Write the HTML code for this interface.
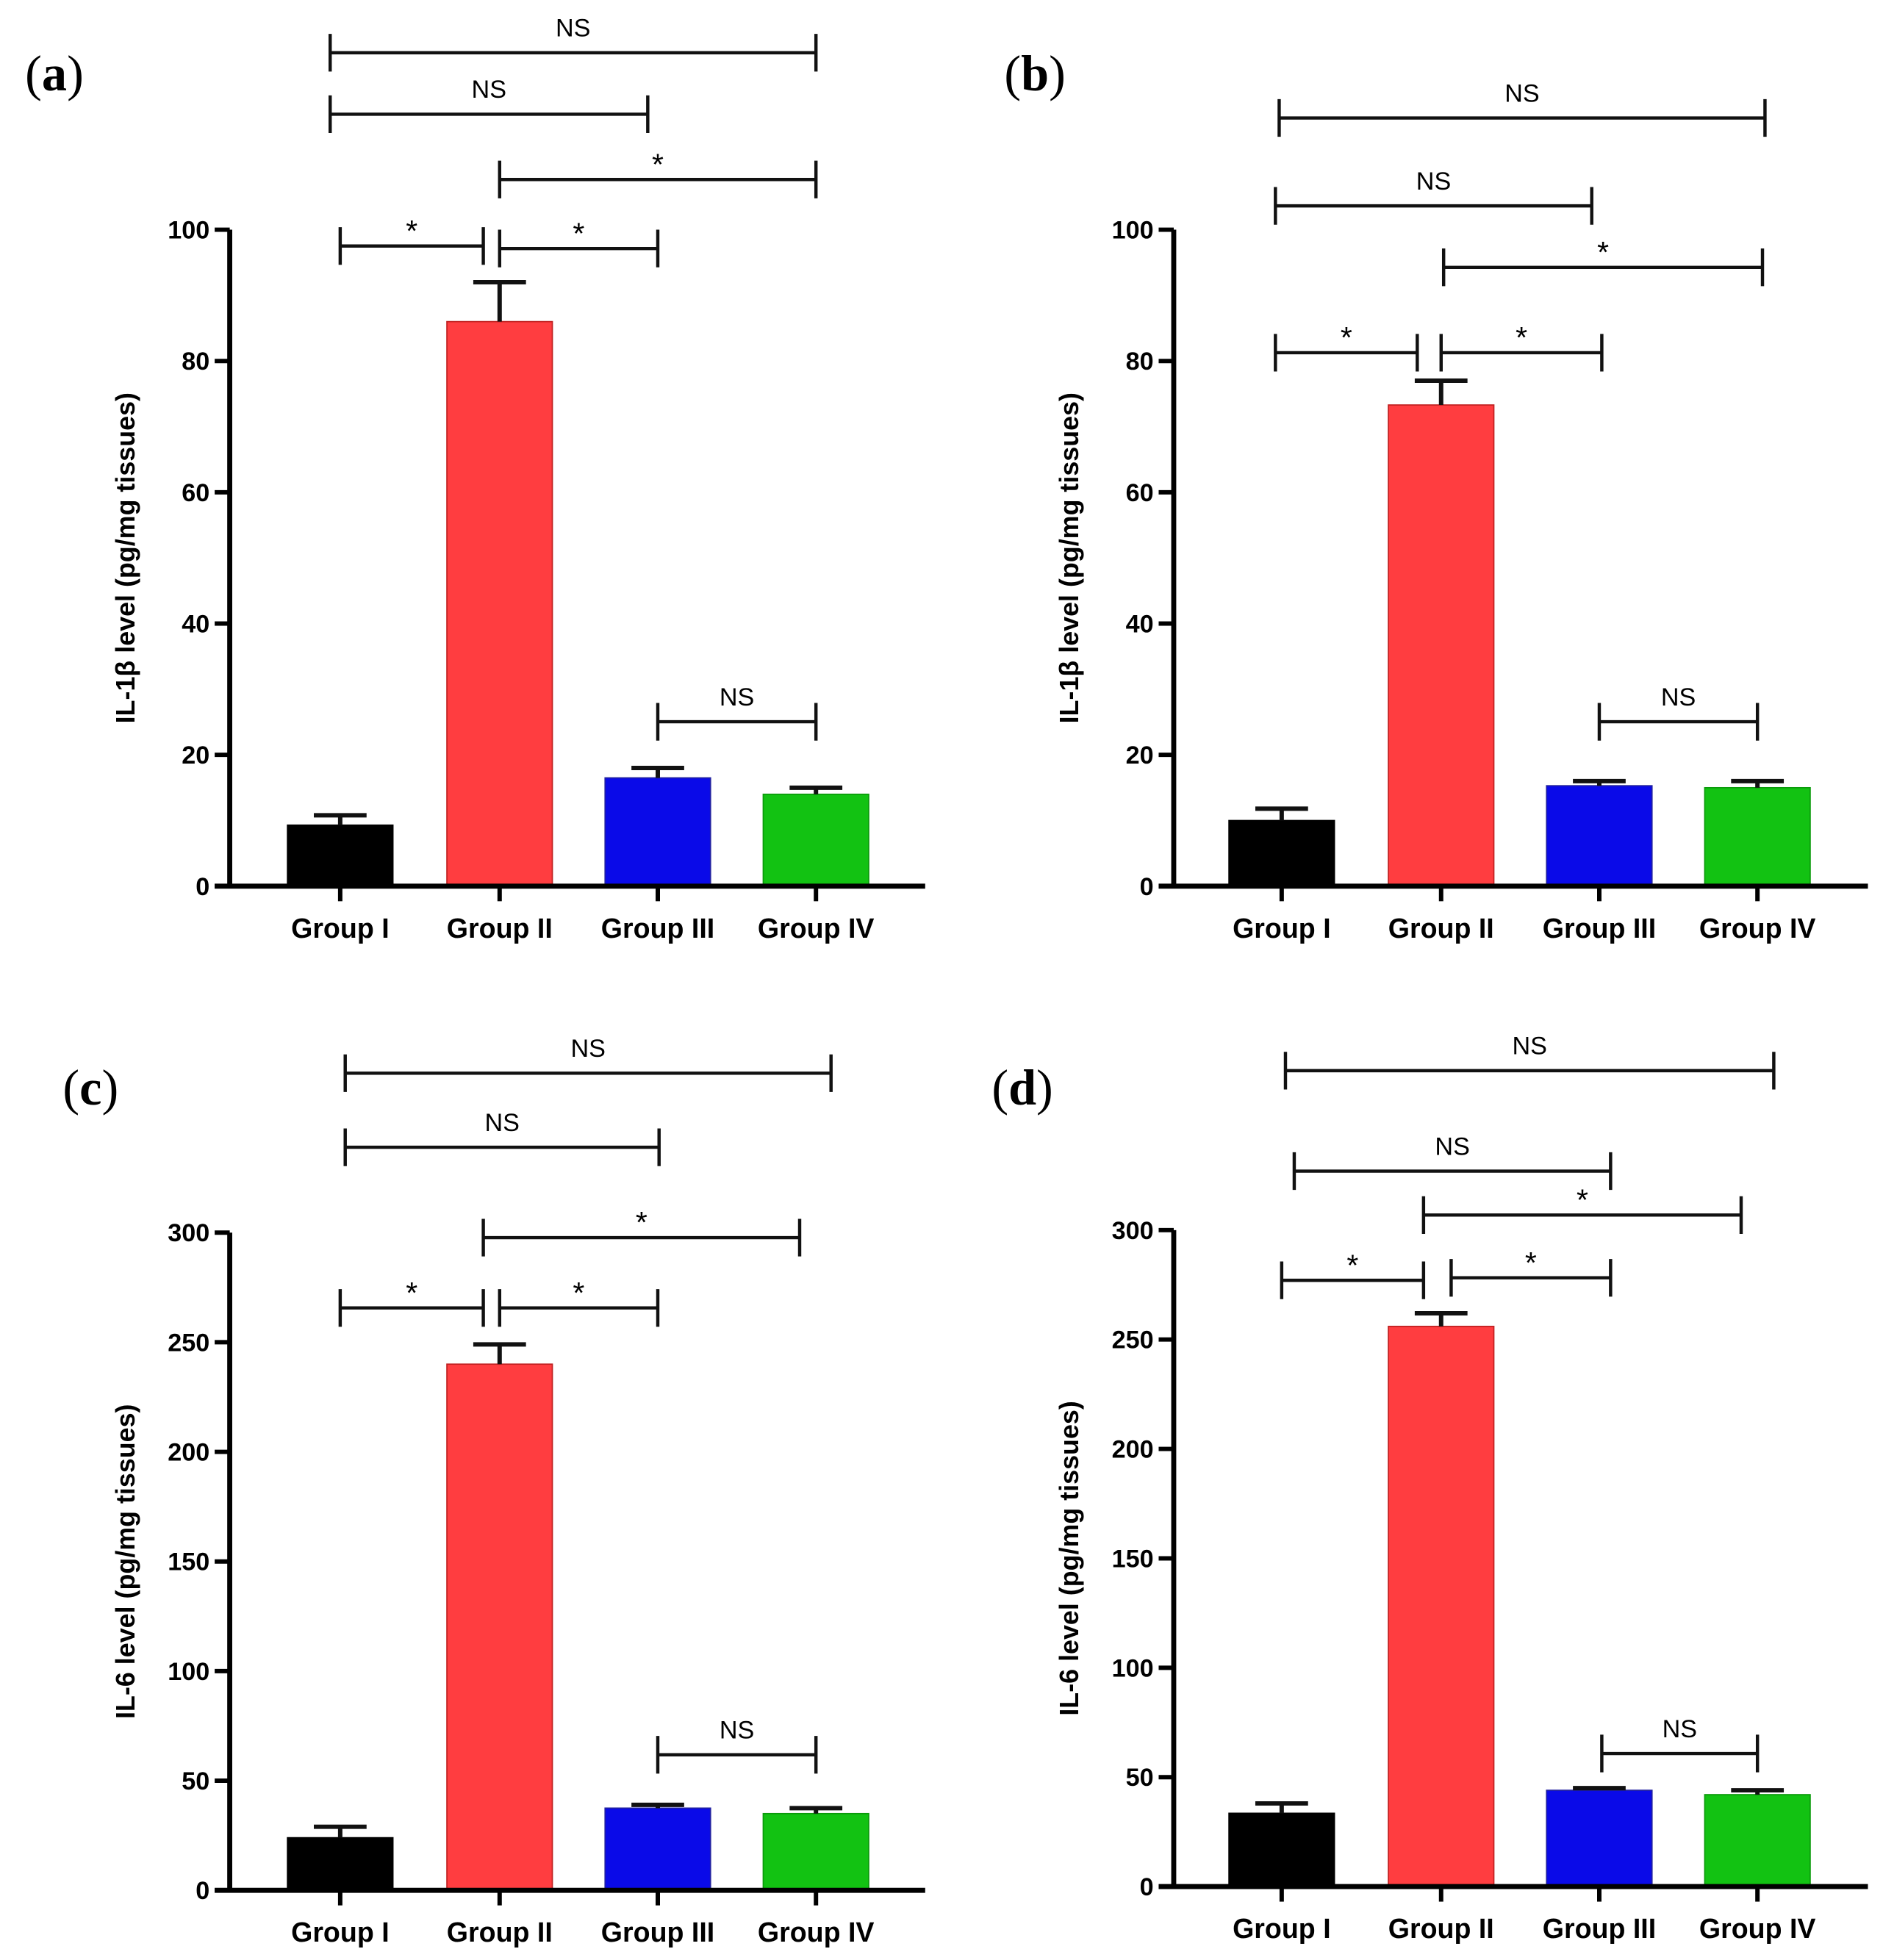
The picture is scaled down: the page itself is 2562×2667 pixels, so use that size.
<!DOCTYPE html>
<html><head><meta charset="utf-8"><style>
html,body{margin:0;padding:0;background:#fff;}
svg{display:block;}
</style></head><body>
<svg id="fig" xmlns="http://www.w3.org/2000/svg" width="2562" height="2667" viewBox="0 0 1500 1561.5" font-family="Liberation Sans, Arial, sans-serif">
<rect x="0" y="0" width="1500" height="1561.5" fill="#fff"/>
</svg>
<script>
const categories = ["Group I","Group II","Group III","Group IV"];
const valuesA = [9.3, 86, 16.5, 14];
const errA = [10.8, 92, 18, 15];
const valuesB = [10, 73.3, 15.3, 15];
const errB = [11.8, 77, 16, 16];
const valuesC = [24, 240, 37.5, 35];
const errC = [29, 249, 39, 37.5];
const valuesD = [33.5, 256, 44, 42];
const errD = [38, 262, 45, 44];
const ticksAB = [0,20,40,60,80,100];
const ticksCD = [0,50,100,150,200,250,300];
const colors = ["#000000","#ff3d40","#0a0ae8","#12c212"];
const strokes = ["#000000","#c02020","#2020a0","#0a9a0a"];

const panels = [
 {id:"a", label:"a", lx:20, ly:72, ax:183, x1:737, y0:706, ytop:183, ymax:100, ticks:ticksAB, vals:valuesA, errs:errA, centers:[271,398,524,650], title:"IL-1β level  (pg/mg tissues)",
  br:[[271,385,196,"*"],[398,524,198,"*"],[398,650,143,"*"],[263,516,91,"NS"],[263,650,42,"NS"],[524,650,575,"NS"]]},
 {id:"b", label:"b", lx:800, ly:72, ax:935, x1:1488, y0:706, ytop:183, ymax:100, ticks:ticksAB, vals:valuesB, errs:errB, centers:[1021,1148,1274,1400], title:"IL-1β level  (pg/mg tissues)",
  br:[[1016,1129,281,"*"],[1148,1276,281,"*"],[1150,1404,213,"*"],[1016,1268,164,"NS"],[1019,1406,94,"NS"],[1274,1400,575,"NS"]]},
 {id:"c", label:"c", lx:50, ly:880, ax:183, x1:737, y0:1506, ytop:982, ymax:300, ticks:ticksCD, vals:valuesC, errs:errC, centers:[271,398,524,650], title:"IL-6 level  (pg/mg tissues)",
  br:[[271,385,1042,"*"],[398,524,1042,"*"],[385,637,986,"*"],[275,525,914,"NS"],[275,662,855,"NS"],[524,650,1398,"NS"]]},
 {id:"d", label:"d", lx:790, ly:880, ax:935, x1:1488, y0:1503, ytop:980, ymax:300, ticks:ticksCD, vals:valuesD, errs:errD, centers:[1021,1148,1274,1400], title:"IL-6 level  (pg/mg tissues)",
  br:[[1021,1134,1020,"*"],[1156,1283,1018,"*"],[1134,1387,968,"*"],[1031,1283,933,"NS"],[1024,1413,853,"NS"],[1276,1400,1397,"NS"]]}
];

const NS = "http://www.w3.org/2000/svg";
const svg = document.getElementById("fig");
function mk(tag, attrs, parent, text){
  const e = document.createElementNS(NS, tag);
  for (const k in attrs) e.setAttribute(k, attrs[k]);
  if (text !== undefined) e.textContent = text;
  parent.appendChild(e);
  return e;
}

panels.forEach(p => {
  const g = mk("g", {}, svg);
  
  
  const y = v => p.y0 - (v / p.ymax) * (p.y0 - p.ytop);

  // panel label
  const lt = mk("text", {x:p.lx, y:p.ly, "font-family":"Liberation Serif, serif", "font-size":"40"}, g);
  
  
  mk("tspan", {}, lt, "(");
  mk("tspan", {"font-weight":"bold"}, lt, p.label);
  mk("tspan", {}, lt, ")");

  // bars
  const bw = 84;
  p.vals.forEach((v, i) => {
    const cx = p.centers[i];
    const r = mk("rect", {x:cx-bw/2, y:y(v), width:bw, height:p.y0-y(v), fill:colors[i], stroke:strokes[i], "stroke-width":1}, g);
    
    
    const eb = mk("path", {d:`M${cx} ${y(v)} V${y(p.errs[i])} M${cx-21} ${y(p.errs[i])} H${cx+21}`, stroke:"#111", "stroke-width":3.5, fill:"none"}, g);
    
    
  });

  // axes
  const yaxis = mk("path", {d:`M${p.ax} ${p.ytop} V${p.y0}`, stroke:"#000", "stroke-width":4, fill:"none"}, g);
  
  
  const xaxis = mk("path", {d:`M${p.ax-12} ${p.y0} H${p.x1}`, stroke:"#000", "stroke-width":4, fill:"none"}, g);
  
  

  p.ticks.forEach(t => {
    mk("path", {d:`M${p.ax-12} ${y(t)} H${p.ax}`, stroke:"#000", "stroke-width":3.5}, g);
    const tl = mk("text", {x:p.ax-16, y:y(t)+7, "text-anchor":"end", "font-size":"20", "font-weight":"bold"}, g, String(t));
    
    
  });
  categories.forEach((c, i) => {
    const cx = p.centers[i];
    mk("path", {d:`M${cx} ${p.y0} V${p.y0+12}`, stroke:"#000", "stroke-width":3.5}, g);
    const xl = mk("text", {x:cx, y:p.y0+41, "text-anchor":"middle", "font-size":"22", "font-weight":"bold"}, g, c);
    
    
  });

  // y axis title
  const ty = (p.ytop + p.y0) / 2;
  const tt = mk("text", {x:0, y:0, transform:`translate(${p.ax-76},${ty}) rotate(-90)`, "text-anchor":"middle", "font-size":"21", "font-weight":"bold"}, g, p.title);
  
  

  // significance brackets
  p.br.forEach(b => {
    const [xa, xb, yy, lab] = b;
    const bp = mk("path", {d:`M${xa} ${yy-15} V${yy+15} M${xb} ${yy-15} V${yy+15} M${xa} ${yy} H${xb}`, stroke:"#111", "stroke-width":2.6, fill:"none"}, g);
    
    
    const isStar = lab === "*";
    const st = mk("text", {x:(xa+xb)/2, y: isStar ? yy-4 : yy-13, "text-anchor":"middle", "font-size": isStar ? "24" : "20"}, g, lab);
    
    
  });
});
</script>
</body></html>
